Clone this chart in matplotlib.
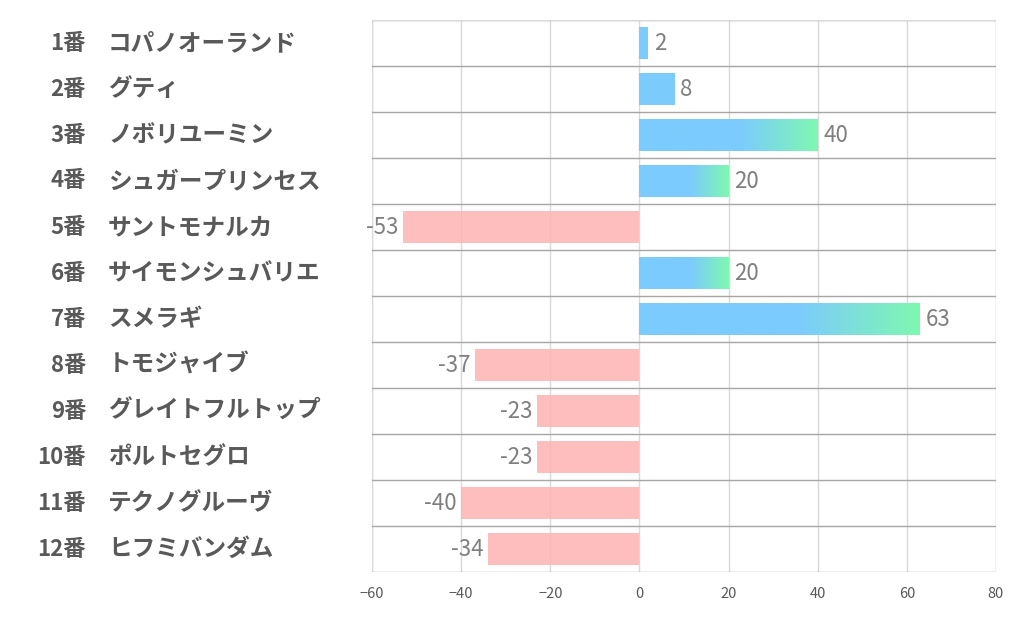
import matplotlib.pyplot as plt
import numpy as np
from matplotlib.colors import LinearSegmentedColormap

plt.rcParams['font.family'] = ['Noto Sans CJK JP', 'DejaVu Sans']

numbers = ['1番', '2番', '3番', '4番', '5番', '6番', '7番', '8番', '9番', '10番', '11番', '12番']
names = ['コパノオーランド', 'グティ', 'ノボリユーミン', 'シュガープリンセス', 'サントモナルカ',
         'サイモンシュバリエ', 'スメラギ', 'トモジャイブ', 'グレイトフルトップ', 'ポルトセグロ',
         'テクノグルーヴ', 'ヒフミバンダム']
values = [2, 8, 40, 20, -53, 20, 63, -37, -23, -23, -40, -34]

blue = '#7ccbfd'
green = '#7ef8b0'
pink = '#ffb3b3'
grad = LinearSegmentedColormap.from_list('bg', [(0, blue), (0.57, blue), (1, green)])

fig = plt.figure(figsize=(10.22, 6.26), dpi=100)
ax = fig.add_axes([372/1022, 1 - 572/626, 624/1022, 552/626])

y = np.arange(len(values))
bars = ax.barh(y, values, height=0.68, zorder=3)

g = np.linspace(0, 1, 256).reshape(1, -1)
for b, v in zip(bars, values):
    yc = b.get_y() + b.get_height() / 2
    if v > 0:
        b.set_facecolor(blue)
        b.set_edgecolor('none')
        if v >= 10:
            # gradient fill towards the bar end
            b.set_facecolor('none')
            x0, y0 = b.get_x(), b.get_y()
            im = ax.imshow(g, cmap=grad, aspect='auto', zorder=3,
                           extent=(x0, x0 + b.get_width(), y0 + b.get_height(), y0))
            im.set_clip_path(b)
        ax.text(v + 1.2, yc, str(v), ha='left', va='center',
                fontsize=16, color='#7f7f7f', zorder=4)
    else:
        b.set_facecolor(pink)
        b.set_alpha(0.85)
        ax.text(v - 1.0, yc, str(v), ha='right', va='center',
                fontsize=16, color='#7f7f7f', zorder=4)

ax.set_ylim(len(values) - 0.5, -0.5)
ax.set_xlim(-60, 80)

# grid
ax.set_xticks(range(-60, 81, 20))
ax.xaxis.grid(True, color='#d9d9d9', linewidth=1, zorder=0)
for i in range(len(values) + 1):
    ax.axhline(i - 0.5, color='#a6a6a6', linewidth=1, zorder=2)
for s in ax.spines.values():
    s.set_visible(False)
ax.axvline(-60, color='#d9d9d9', linewidth=1, zorder=0)
ax.axvline(80, color='#d9d9d9', linewidth=1, zorder=0)
ax.axhline(-0.5, color='#d9d9d9', linewidth=1, zorder=2)
ax.set_yticks([])
ax.tick_params(axis='x', length=0, labelsize=10.5, labelcolor='#595959', pad=11)

# row labels
for i, (n, nm) in enumerate(zip(numbers, names)):
    ty = 1 - (20 + 46 * i + 23) / 626
    ax.text(86/1022, ty, n, transform=fig.transFigure,
            ha='right', va='center', fontsize=16, fontweight='bold', color='#595959')
    ax.text(108/1022, ty, nm, transform=fig.transFigure,
            ha='left', va='center', fontsize=17, fontweight='bold', color='#595959')

fig.savefig('out.png', dpi=100)
